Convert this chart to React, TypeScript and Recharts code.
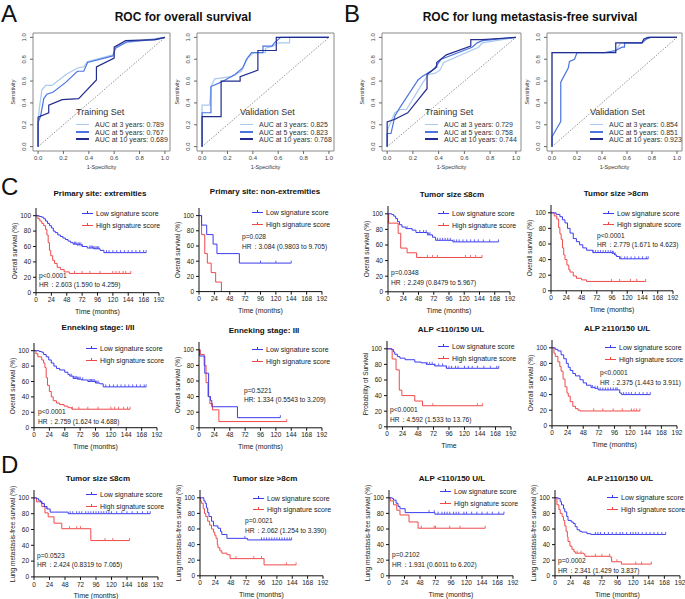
import { LineChart, Line, XAxis, YAxis, ReferenceLine, ReferenceArea } from 'recharts'

const FONT = '"Liberation Sans", Arial, Helvetica, sans-serif'

// ROC curves, points are [1 - specificity, sensitivity]
const aTrain3 = [[0, 0], [0, 0.22], [0.01, 0.35], [0.03, 0.52], [0.06, 0.56], [0.11, 0.56], [0.22, 0.66], [0.31, 0.72], [0.36, 0.73], [0.39, 0.78], [0.59, 0.84], [0.61, 0.91], [0.69, 0.95], [0.93, 0.99], [1, 1]]
const aTrain5 = [[0, 0], [0, 0.22], [0.02, 0.28], [0.045, 0.44], [0.07, 0.48], [0.12, 0.5], [0.22, 0.59], [0.31, 0.69], [0.36, 0.69], [0.39, 0.77], [0.59, 0.83], [0.61, 0.9], [0.7, 0.96], [0.93, 0.98], [1, 1]]
const aTrain10 = [[0, 0], [0, 0.27], [0.084, 0.31], [0.084, 0.38], [0.19, 0.43], [0.32, 0.44], [0.46, 0.61], [0.46, 0.73], [0.6, 0.81], [0.6, 0.91], [0.69, 0.97], [0.92, 0.98], [1, 1]]
const aVal3 = [[0, 0], [0, 0.38], [0.06, 0.38], [0.07, 0.55], [0.1, 0.62], [0.23, 0.64], [0.31, 0.69], [0.36, 0.81], [0.41, 0.86], [0.5, 0.86], [0.5, 0.9], [0.56, 0.92], [0.6, 0.95], [0.69, 0.95], [0.69, 1], [1, 1]]
const aVal5 = [[0, 0], [0, 0.31], [0.07, 0.31], [0.07, 0.55], [0.15, 0.59], [0.26, 0.66], [0.32, 0.72], [0.35, 0.8], [0.39, 0.86], [0.48, 0.86], [0.48, 0.92], [0.55, 0.92], [0.57, 0.95], [0.62, 1], [1, 1]]
const aVal10 = [[0, 0], [0, 0.275], [0.15, 0.275], [0.15, 0.6], [0.3, 0.6], [0.3, 0.64], [0.44, 0.7], [0.44, 0.88], [0.585, 0.88], [0.585, 1], [1, 1]]
const bTrain3 = [[0, 0], [0.005, 0.16], [0.06, 0.31], [0.1, 0.34], [0.15, 0.34], [0.28, 0.59], [0.32, 0.66], [0.37, 0.67], [0.41, 0.7], [0.44, 0.77], [0.71, 0.91], [0.74, 0.95], [1, 1]]
const bTrain5 = [[0, 0], [0, 0.12], [0.03, 0.12], [0.06, 0.28], [0.1, 0.36], [0.24, 0.61], [0.27, 0.64], [0.35, 0.7], [0.37, 0.72], [0.42, 0.8], [0.66, 0.91], [0.7, 0.95], [0.74, 0.97], [1, 1]]
const bTrain10 = [[0, 0], [0, 0.225], [0.06, 0.25], [0.16, 0.31], [0.31, 0.53], [0.31, 0.66], [0.385, 0.73], [0.385, 0.77], [0.46, 0.84], [0.65, 0.92], [0.65, 0.98], [0.74, 0.98], [1, 1]]
const bVal3 = [[0, 0], [0, 0.86], [0.44, 0.86], [0.51, 0.875], [0.55, 0.95], [0.72, 0.95], [0.76, 1], [1, 1]]
const bVal5 = [[0, 0], [0, 0.09], [0.07, 0.23], [0.07, 0.59], [0.13, 0.72], [0.14, 0.78], [0.18, 0.8], [0.2, 0.86], [0.42, 0.86], [0.51, 0.88], [0.56, 0.91], [0.58, 0.91], [0.58, 0.95], [0.72, 0.95], [0.75, 0.98], [0.79, 1], [1, 1]]
const bVal10 = [[0, 0], [0, 0.86], [0.51, 0.86], [0.51, 0.95], [0.72, 0.95], [0.735, 0.985], [0.77, 1], [1, 1]]

const rocYears = ['3', '5', '10']
const aTrainAuc = ['0.789', '0.767', '0.689']
const aValAuc = ['0.825', '0.823', '0.768']
const bTrainAuc = ['0.729', '0.758', '0.744']
const bValAuc = ['0.854', '0.851', '0.923']
const rocTicks = [0, 0.2, 0.4, 0.6, 0.8, 1]

// Kaplan-Meier steps [months, survival %] and censor times
const extLow = [[0, 100], [5, 99], [9, 98], [12, 96], [15, 93], [18, 90], [21, 87], [24, 84], [27, 80], [30, 78], [34, 75], [38, 73], [42, 71], [46, 69], [50, 67], [54, 65], [58, 63], [64, 62], [72, 60], [80, 58], [90, 57], [100, 55], [106, 52], [172, 52]]
const extLowCens = [60, 62, 64, 66, 68, 70, 72, 84, 86, 88, 90, 92, 94, 96, 98, 110, 114, 120, 126, 132, 138, 144, 150, 156, 162, 168, 172]
const extHigh = [[0, 100], [3, 96], [6, 93], [9, 90], [12, 87], [15, 82], [17, 75], [19, 65], [21, 55], [23, 48], [26, 42], [29, 38], [33, 33], [38, 30], [44, 27], [52, 25], [148, 25]]
const extHighCens = [60, 72, 84, 100, 120, 125, 130, 136, 140, 148]

const nonLow = [[0, 100], [4, 87.5], [12, 75], [22, 62.5], [28, 50], [63, 37.5], [144, 37.5]]
const nonLowCens = [96, 120, 144]
const nonHigh = [[0, 100], [4, 75], [9, 50], [13, 37.5], [19, 25], [26, 12.5], [35, 0]]
const nonHighCens: number[] = []

const t8Low = [[0, 100], [6, 99], [9, 97], [12, 94], [15, 90], [18, 86], [22, 83], [28, 81], [38, 79], [44, 76], [62, 73], [70, 70], [75, 66], [102, 64], [174, 64]]
const t8LowCens = [30, 50, 56, 60, 64, 66, 78, 82, 86, 90, 94, 98, 104, 108, 112, 118, 124, 130, 136, 142, 150, 160, 174]
const t8High = [[0, 100], [1, 88], [16, 75], [20, 56], [30, 50], [45, 44], [148, 44]]
const t8HighCens = [62, 70, 78, 122, 130, 138, 148]

const g8Low = [[0, 100], [8, 98], [14, 95], [18, 91], [22, 87], [26, 80], [30, 74], [35, 67], [40, 63], [45, 59], [50, 55], [56, 52], [66, 49], [96, 48], [100, 46], [103, 44], [108, 41], [153, 41]]
const g8LowCens = [66, 70, 74, 78, 82, 86, 90, 94, 97, 98, 101, 110, 116, 120, 126, 132, 138, 144, 150, 153]
const g8High = [[0, 100], [5, 96], [9, 92], [12, 81], [14, 73], [16, 66], [18, 55], [20, 46], [22, 40], [25, 33], [28, 27], [30, 24], [35, 19], [40, 16], [48, 14], [56, 12], [149, 12]]
const g8HighCens = [95, 108, 125, 135, 149]

const enLow = [[0, 100], [8, 99], [12, 98], [15, 95], [19, 92], [23, 88], [27, 84], [31, 80], [35, 77], [40, 75], [48, 72], [53, 69], [56, 67], [61, 64], [68, 63], [74, 62], [84, 60], [96, 58], [103, 57], [108, 53], [175, 53]]
const enLowCens = [58, 62, 64, 66, 68, 70, 72, 76, 86, 88, 90, 92, 94, 96, 98, 100, 112, 118, 124, 130, 136, 142, 148, 154, 160, 166, 172, 175]
const enHigh = [[0, 100], [3, 96], [6, 92], [12, 88], [15, 84], [17, 78], [19, 65], [21, 55], [24, 47], [27, 40], [30, 35], [35, 32], [40, 30], [47, 28], [53, 26], [59, 24], [150, 24]]
const enHighCens = [60, 70, 84, 100, 120, 126, 132, 140, 146, 150]

const en3Low = [[0, 100], [1, 92], [9, 70], [15, 40], [18, 35], [20, 27], [60, 13], [127, 13]]
const en3LowCens = [127]
const en3High = [[0, 100], [2, 94], [8, 80], [11, 58], [14, 40], [17, 31], [21, 23], [31, 8], [137, 8]]
const en3HighCens = [137]

const alpLLow = [[0, 100], [7, 99], [10, 96], [12, 93], [16, 90], [20, 88], [28, 86], [43, 83], [53, 82], [61, 80], [74, 78], [92, 75], [173, 75]]
const alpLLowCens = [62, 66, 70, 74, 80, 86, 92, 96, 100, 106, 110, 120, 126, 132, 140, 150, 160, 170, 173]
const alpLHigh = [[0, 100], [8, 87], [14, 73], [19, 47], [23, 40], [43, 33], [55, 27], [148, 27]]
const alpLHighCens = [71, 140, 148]

const alpHLow = [[0, 100], [5, 98], [9, 96], [14, 91], [18, 86], [22, 80], [25, 75], [28, 71], [32, 67], [36, 64], [43, 59], [48, 55], [53, 52], [60, 49], [66, 48], [71, 46], [99, 46], [104, 42], [107, 40], [151, 40]]
const alpHLowCens = [62, 66, 70, 74, 78, 82, 86, 90, 94, 98, 100, 110, 114, 118, 122, 128, 134, 140, 146, 151]
const alpHHigh = [[0, 100], [3, 93], [5, 89], [9, 82], [12, 76], [14, 70], [17, 60], [20, 50], [23, 42], [25, 38], [28, 31], [32, 25], [36, 22], [40, 20], [43, 19], [135, 19]]
const alpHHighCens = [64, 78, 94, 108, 122, 126, 130, 135]

const lt8Low = [[0, 100], [4, 99], [7, 97], [10, 95], [12, 93], [16, 89], [20, 86], [25, 82], [53, 80], [180, 80]]
const lt8LowCens = [12, 16, 20, 56, 60, 66, 70, 74, 80, 84, 88, 92, 96, 100, 104, 108, 112, 116, 120, 128, 136, 144, 152, 160, 168, 176, 180]
const lt8High = [[0, 100], [4, 95], [12, 89], [17, 81], [22, 76], [31, 68], [43, 61], [88, 46], [148, 46]]
const lt8HighCens = [55, 66, 72, 110, 122, 148]

const lg8Low = [[0, 100], [6, 96], [8, 93], [10, 87], [12, 81], [14, 76], [18, 70], [21, 64], [28, 61], [32, 57], [34, 53], [42, 48], [74, 46], [143, 46]]
const lg8LowCens = [70, 96, 100, 104, 108, 112, 116, 120, 124, 128, 132, 136, 140, 143]
const lg8High = [[0, 100], [1, 96], [2, 93], [5, 86], [7, 80], [9, 76], [12, 70], [15, 65], [18, 60], [21, 56], [23, 52], [25, 48], [27, 40], [28, 36], [31, 32], [34, 29], [42, 27], [47, 22], [100, 14], [150, 14]]
const lg8HighCens = [56, 84, 96, 135, 150]

const llLow = [[0, 100], [5, 99], [7, 97], [11, 93], [14, 89], [17, 86], [25, 81], [71, 79], [178, 79]]
const llLowCens = [62, 70, 76, 82, 86, 90, 94, 100, 104, 108, 116, 120, 128, 136, 144, 152, 160, 170, 178]
const llHigh = [[0, 100], [2, 96], [7, 91], [12, 84], [17, 78], [31, 69], [45, 61], [149, 61]]
const llHighCens = [50, 70, 72, 94, 110, 149]

const lhLow = [[0, 100], [5, 99], [8, 95], [10, 91], [13, 86], [15, 82], [18, 76], [20, 71], [25, 69], [28, 67], [31, 63], [34, 59], [38, 57], [41, 56], [49, 54], [55, 53], [170, 53]]
const lhLowCens = [62, 66, 70, 76, 82, 88, 94, 100, 104, 110, 116, 120, 124, 128, 134, 140, 146, 152, 158, 164, 170]
const lhHigh = [[0, 100], [3, 91], [6, 85], [8, 80], [11, 76], [13, 71], [15, 64], [17, 57], [19, 50], [20, 44], [23, 38], [26, 34], [29, 31], [31, 29], [44, 28], [46, 25], [85, 24], [87, 18], [100, 18], [102, 15], [148, 15]]
const lhHighCens = [34, 40, 62, 72, 84, 95, 124, 133, 148]

const kmXTicks = [0, 24, 48, 72, 96, 120, 144, 168, 192]
const kmYTicks = [0, 20, 40, 60, 80, 100]

const ROC_COLORS = ['#a9c9ee', '#4a74e2', '#232c8f']
const ROC_LEGEND_W = [1, 2.2, 1.6]
const BLUE = '#3b3bf0'
const RED = '#f04848'

function Txt({ x, y, size, children, bold = false, align = 'left', color = '#111', rotate = false }: {
  x: number; y: number; size: number; children: React.ReactNode; bold?: boolean; align?: string; color?: string; rotate?: boolean
}) {
  const tx = rotate || align === 'center' ? '-50%' : align === 'right' ? '-100%' : '0'
  return (
    <div
      style={{
        position: 'absolute',
        left: x,
        top: y,
        transform: `translate(${tx}, -50%)${rotate ? ' rotate(-90deg)' : ''}`,
        fontSize: size,
        fontWeight: bold ? 700 : 400,
        color,
        whiteSpace: 'nowrap',
        lineHeight: 1,
      }}
    >
      {children}
    </div>
  )
}

function RocYTick(props: any) {
  const { x, y, payload } = props
  const bx = x - 2
  return (
    <text x={bx} y={y} transform={`rotate(-90 ${bx} ${y})`} textAnchor="middle" fontSize={6} fill="#444" fontFamily={FONT}>
      {Number(payload.value).toFixed(1)}
    </text>
  )
}

interface RocProps {
  left: number
  top: number
  width: number
  height: number
  curves: number[][][]
  setName: string
  aucs: string[]
}

function RocPanel({ left, top, width, height, curves, setName, aucs }: RocProps) {
  const ML = 26
  const MB = 30
  const PAD = 6
  return (
    <>
      <div style={{ position: 'absolute', left: left - ML, top: top - PAD }}>
        <LineChart width={width + ML + PAD} height={height + MB + PAD} margin={{ top: PAD, right: PAD, bottom: 0, left: 0 }}>
          <XAxis
            type="number"
            dataKey="x"
            domain={[-0.04, 1.04]}
            ticks={rocTicks}
            interval={0}
            tickFormatter={(v: number) => v.toFixed(1)}
            axisLine={false}
            tickSize={3}
            tickLine={{ stroke: '#666' }}
            tick={{ fontSize: 6, fill: '#444', fontFamily: FONT }}
            height={MB}
            allowDataOverflow
          />
          <YAxis
            type="number"
            domain={[-0.04, 1.04]}
            ticks={rocTicks}
            interval={0}
            axisLine={false}
            tickSize={3}
            tickLine={{ stroke: '#666' }}
            tick={<RocYTick />}
            width={ML}
            allowDataOverflow
          />
          <ReferenceArea x1={-0.04} x2={1.04} y1={-0.04} y2={1.04} fill="none" stroke="#8a8a8a" strokeWidth={1} ifOverflow="visible" />
          <ReferenceLine segment={[{ x: 0, y: 0 }, { x: 1, y: 1 }]} stroke="#777" strokeDasharray="1.5 1.5" strokeWidth={0.8} />
          {curves.map((c, i) => (
            <Line
              key={i}
              data={c.map(([x, y]) => ({ x, y }))}
              dataKey="y"
              type="linear"
              stroke={ROC_COLORS[i]}
              strokeWidth={1.2}
              dot={false}
              isAnimationActive={false}
            />
          ))}
        </LineChart>
      </div>
      <Txt x={left + width / 2} y={top + height + 17} size={5.5} align="center" color="#333">1-Specificity</Txt>
      <Txt x={left - 19} y={top + height / 2} size={5.5} rotate color="#333">Sensitivity</Txt>
      <Txt x={left + 43} y={top + 79} size={9} color="#333">{setName}</Txt>
      {aucs.map((a, i) => (
        <div key={i}>
          <div
            style={{
              position: 'absolute',
              left: left + 43,
              top: top + 91 + i * 7.6 - ROC_LEGEND_W[i] / 2,
              width: 13,
              height: ROC_LEGEND_W[i],
              background: ROC_COLORS[i],
            }}
          />
          <Txt x={left + 62} y={top + 91 + i * 7.6} size={7} color="#333">
            AUC at {rocYears[i]} years: {a}
          </Txt>
        </div>
      ))}
    </>
  )
}

function kmPoints(steps: number[][], cens: number[]) {
  const pts = steps.map(([t, s]) => ({ t, s, c: 0 }))
  for (const t of cens) {
    let s = steps[0][1]
    for (const [st, sv] of steps) if (st <= t) s = sv
    pts.push({ t, s, c: 1 })
  }
  return pts.sort((a, b) => a.t - b.t)
}

function censorDot(color: string) {
  return (props: any) => {
    const { cx, cy, payload, index } = props
    if (!payload || !payload.c) return <g key={`n${index}`} />
    return <line key={`c${index}`} x1={cx} x2={cx} y1={cy - 2.5} y2={cy} stroke={color} strokeWidth={0.8} />
  }
}

interface KmProps {
  x0: number
  x1: number
  y0: number
  y100: number
  low: number[][]
  lowCens: number[]
  high: number[][]
  highCens: number[]
  title: string
  titleX: number
  titleY: number
  yLabel: string
  xLabel: string
  legX: number
  legY: number[]
  annX: number
  annY: number[]
  pText: string
  hrText: string
}

function LegendItem({ x, y, color, label }: { x: number; y: number; color: string; label: string }) {
  return (
    <>
      <div style={{ position: 'absolute', left: x, top: y - 0.5, width: 11, height: 1, background: color }} />
      <div style={{ position: 'absolute', left: x + 5, top: y - 2.5, width: 0.8, height: 2.5, background: color }} />
      <Txt x={x + 14} y={y} size={7} color="#222">{label}</Txt>
    </>
  )
}

function KmPanel(p: KmProps) {
  const YW = 22
  const XH = 20
  const RM = 8
  const h = (p.y0 - p.y100) * 1.1
  const w = p.x1 - p.x0
  const tickStyle = { fontSize: 6.5, fill: '#222', fontFamily: FONT }
  return (
    <>
      <div style={{ position: 'absolute', left: p.x0 - YW, top: p.y0 - h }}>
        <LineChart width={w + YW + RM} height={h + XH} margin={{ top: 0, right: RM, bottom: 0, left: 0 }}>
          <XAxis
            type="number"
            dataKey="t"
            domain={[0, 192]}
            ticks={kmXTicks}
            interval={0}
            axisLine={{ stroke: '#111' }}
            tickLine={{ stroke: '#111' }}
            tickSize={3}
            tick={tickStyle}
            height={XH}
            allowDataOverflow
          />
          <YAxis
            type="number"
            domain={[0, 110]}
            ticks={kmYTicks}
            interval={0}
            axisLine={{ stroke: '#111' }}
            tickLine={{ stroke: '#111' }}
            tickSize={3}
            tick={tickStyle}
            width={YW}
            allowDataOverflow
          />
          <Line data={kmPoints(p.high, p.highCens)} dataKey="s" type="stepAfter" stroke={RED} strokeWidth={1} dot={censorDot(RED)} isAnimationActive={false} />
          <Line data={kmPoints(p.low, p.lowCens)} dataKey="s" type="stepAfter" stroke={BLUE} strokeWidth={1} dot={censorDot(BLUE)} isAnimationActive={false} />
        </LineChart>
      </div>
      <Txt x={p.titleX} y={p.titleY} size={8} bold align="center">{p.title}</Txt>
      <Txt x={p.x0 - 21} y={p.y0 - h / 2} size={6.5} rotate color="#222">{p.yLabel}</Txt>
      <Txt x={(p.x0 + p.x1) / 2} y={p.y0 + 18} size={7} align="center" color="#222">{p.xLabel}</Txt>
      <LegendItem x={p.legX} y={p.legY[0]} color={BLUE} label="Low signature score" />
      <LegendItem x={p.legX} y={p.legY[1]} color={RED} label="High signature score" />
      <Txt x={p.annX} y={p.annY[0]} size={6.6} color="#222">{p.pText}</Txt>
      <Txt x={p.annX} y={p.annY[1]} size={6.6} color="#222">{p.hrText}</Txt>
    </>
  )
}

const OS = 'Overall survival (%)'
const LM = 'Lung metastasis-free survival (%)'
const TM = 'Time (months)'

const kmPanels: KmProps[] = [
  { x0: 36, x1: 159, y0: 293, y100: 216, low: extLow, lowCens: extLowCens, high: extHigh, highCens: extHighCens, title: 'Primary site: extremities', titleX: 100, titleY: 194, yLabel: OS, xLabel: TM, legX: 82, legY: [213, 225], annX: 39, annY: [276, 285], pText: 'p<0.0001', hrText: 'HR：2.603 (1.590 to 4.259)' },
  { x0: 199, x1: 322, y0: 292, y100: 216, low: nonLow, lowCens: nonLowCens, high: nonHigh, highCens: nonHighCens, title: 'Primary site: non-extremities', titleX: 265, titleY: 192, yLabel: OS, xLabel: TM, legX: 252, legY: [212, 224], annX: 242, annY: [237, 247], pText: 'p=0.028', hrText: 'HR：3.084 (0.9803 to 9.705)' },
  { x0: 388, x1: 510, y0: 292, y100: 214, low: t8Low, lowCens: t8LowCens, high: t8High, highCens: t8HighCens, title: 'Tumor size ≤8cm', titleX: 452, titleY: 195, yLabel: OS, xLabel: TM, legX: 438, legY: [213, 225], annX: 391, annY: [273, 283], pText: 'p=0.0348', hrText: 'HR：2.249 (0.8479 to 5.967)' },
  { x0: 551, x1: 673, y0: 291, y100: 213, low: g8Low, lowCens: g8LowCens, high: g8High, highCens: g8HighCens, title: 'Tumor size >8cm', titleX: 616, titleY: 194, yLabel: OS, xLabel: TM, legX: 603, legY: [213, 224], annX: 597, annY: [236, 245], pText: 'p<0.0001', hrText: 'HR：2.779 (1.671 to 4.623)' },
  { x0: 34, x1: 157, y0: 428, y100: 351, low: enLow, lowCens: enLowCens, high: enHigh, highCens: enHighCens, title: 'Enneking stage: I/II', titleX: 98, titleY: 328, yLabel: OS, xLabel: TM, legX: 86, legY: [348, 360], annX: 38, annY: [412, 422], pText: 'p<0.0001', hrText: 'HR：2.759 (1.624 to 4.688)' },
  { x0: 199, x1: 322, y0: 428, y100: 350, low: en3Low, lowCens: en3LowCens, high: en3High, highCens: en3HighCens, title: 'Enneking stage: III', titleX: 264, titleY: 331, yLabel: OS, xLabel: TM, legX: 252, legY: [349, 361], annX: 244, annY: [391, 400], pText: 'p=0.5221', hrText: 'HR: 1.334 (0.5543 to 3.209)' },
  { x0: 387, x1: 511, y0: 427, y100: 349, low: alpLLow, lowCens: alpLLowCens, high: alpLHigh, highCens: alpLHighCens, title: 'ALP <110/150 U/L', titleX: 451, titleY: 330, yLabel: 'Probability of Survival', xLabel: 'Time', legX: 438, legY: [346, 358], annX: 390, annY: [410, 420], pText: 'p<0.0001', hrText: 'HR：4.592 (1.533 to 13.76)' },
  { x0: 552, x1: 677, y0: 426, y100: 348, low: alpHLow, lowCens: alpHLowCens, high: alpHHigh, highCens: alpHHighCens, title: 'ALP ≥110/150 U/L', titleX: 617, titleY: 329, yLabel: OS, xLabel: TM, legX: 605, legY: [347, 359], annX: 600, annY: [373, 383], pText: 'p<0.0001', hrText: 'HR：2.375 (1.443 to 3.911)' },
  { x0: 34, x1: 158, y0: 577, y100: 498, low: lt8Low, lowCens: lt8LowCens, high: lt8High, highCens: lt8HighCens, title: 'Tumor size ≤8cm', titleX: 98, titleY: 479, yLabel: LM, xLabel: TM, legX: 86, legY: [494, 506], annX: 37, annY: [556, 565], pText: 'p=0.0523', hrText: 'HR：2.424 (0.8319 to 7.065)' },
  { x0: 200, x1: 323, y0: 576, y100: 498, low: lg8Low, lowCens: lg8LowCens, high: lg8High, highCens: lg8HighCens, title: 'Tumor size >8cm', titleX: 265, titleY: 479, yLabel: LM, xLabel: TM, legX: 253, legY: [498, 509], annX: 245, annY: [521, 531], pText: 'p=0.0021', hrText: 'HR：2.062 (1.254 to 3.390)' },
  { x0: 389, x1: 513, y0: 576, y100: 498, low: llLow, lowCens: llLowCens, high: llHigh, highCens: llHighCens, title: 'ALP <110/150 U/L', titleX: 452, titleY: 479, yLabel: LM, xLabel: TM, legX: 440, legY: [491, 503], annX: 392, annY: [555, 565], pText: 'p=0.2102', hrText: 'HR：1.931 (0.6011 to 6.202)' },
  { x0: 555, x1: 680, y0: 576, y100: 498, low: lhLow, lowCens: lhLowCens, high: lhHigh, highCens: lhHighCens, title: 'ALP ≥110/150 U/L', titleX: 620, titleY: 479, yLabel: LM, xLabel: TM, legX: 607, legY: [497, 509], annX: 558, annY: [561, 571], pText: 'p=0.0002', hrText: 'HR：2.341 (1.429 to 3.837)' },
]

export default function App() {
  return (
    <div
      style={{
        position: 'absolute',
        left: 0,
        top: 0,
        width: 685,
        height: 599,
        background: '#fff',
        overflow: 'hidden',
        fontFamily: FONT,
      }}
    >
      <Txt x={1} y={14} size={24}>A</Txt>
      <Txt x={344} y={14} size={24}>B</Txt>
      <Txt x={1} y={187} size={24}>C</Txt>
      <Txt x={1} y={465} size={24}>D</Txt>
      <Txt x={183} y={17} size={12} bold align="center">ROC for overall survival</Txt>
      <Txt x={530} y={17} size={12} bold align="center">ROC for lung metastasis-free survival</Txt>

      <RocPanel left={33} top={33} width={137} height={118} curves={[aTrain3, aTrain5, aTrain10]} setName="Training Set" aucs={aTrainAuc} />
      <RocPanel left={197} top={33} width={137} height={118} curves={[aVal3, aVal5, aVal10]} setName="Validation Set" aucs={aValAuc} />
      <RocPanel left={382} top={33} width={139} height={118} curves={[bTrain3, bTrain5, bTrain10]} setName="Training Set" aucs={bTrainAuc} />
      <RocPanel left={547} top={33} width={135} height={118} curves={[bVal3, bVal5, bVal10]} setName="Validation Set" aucs={bValAuc} />

      {kmPanels.map((p, i) => (
        <KmPanel key={i} {...p} />
      ))}
    </div>
  )
}
